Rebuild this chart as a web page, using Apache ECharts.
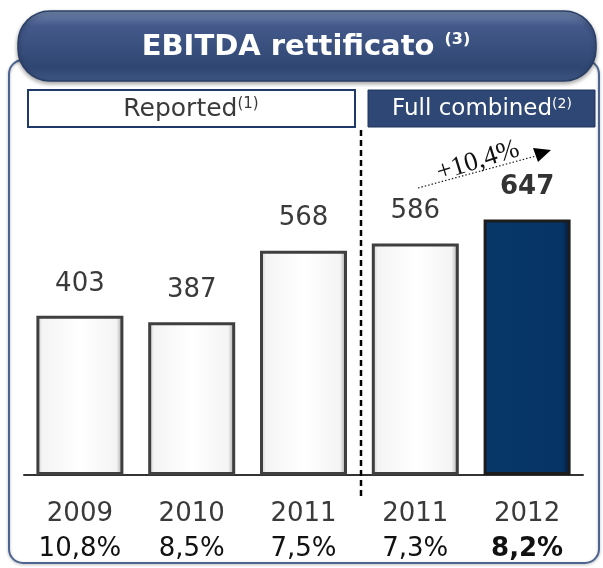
<!DOCTYPE html>
<html>
<head>
<meta charset="utf-8">
<script src="https://cdn.jsdelivr.net/npm/echarts@6/dist/echarts.min.js"></script>
<style>
  html,body{margin:0;padding:0;background:#fff;}
  #chart{width:603px;height:568px;}
</style>
</head>
<body>
<div id="chart"></div>
<script>
// values
const years = ['2009', '2010', '2011', '2011', '2012']
const ebitda = [403, 387, 568, 586, 647]
const margins = ['10,8%', '8,5%', '7,5%', '7,3%', '8,2%']
const growthLabel = '+10,4%'

const FONT = '"DejaVu Sans", Verdana, sans-serif'

let myChart = echarts.init(document.getElementById('chart'))

// white bevelled bars, last one dark blue
const whiteFill = new echarts.graphic.LinearGradient(0, 0, 1, 0, [
  {offset: 0, color: '#c9c9c9'},
  {offset: 0.07, color: '#f4f4f4'},
  {offset: 0.5, color: '#ffffff'},
  {offset: 0.92, color: '#f4f4f4'},
  {offset: 1, color: '#9a9a9a'}
])
const blueFill = new echarts.graphic.LinearGradient(0, 0, 1, 0, [
  {offset: 0, color: '#0a3a70'},
  {offset: 0.07, color: '#073668'},
  {offset: 0.9, color: '#063466'},
  {offset: 1, color: '#021a36'}
])

let barData = ebitda.map((v, i) => {
  let last = i === ebitda.length - 1
  return {
    value: v,
    itemStyle: {
      color: last ? blueFill : whiteFill,
      borderColor: last ? '#1c1c1c' : '#3f3f3f',
      borderWidth: 3
    },
    label: {fontWeight: last ? 'bold' : 'normal', color: last ? '#333' : '#3a3a3a'}
  }
})

myChart.setOption({
  animation: false,
  grid: {left: 24, right: 20, top: 159, bottom: 93},
  xAxis: {
    type: 'category',
    data: years,
    axisTick: {show: false},
    axisLine: {lineStyle: {color: '#333', width: 2}},
    axisLabel: {
      margin: 22,
      interval: 0,
      formatter: function (val, idx) {
        let last = idx === years.length - 1
        return '{y|' + val + '}\n' + (last ? '{pb|' : '{p|') + margins[idx] + '}'
      },
      rich: {
        y: {fontFamily: FONT, fontSize: 26, color: '#3a3a3a', lineHeight: 35},
        p: {fontFamily: FONT, fontSize: 26, color: '#111', lineHeight: 35},
        pb: {fontFamily: FONT, fontSize: 26, color: '#111', lineHeight: 35, fontWeight: 'bold'}
      }
    }
  },
  yAxis: {
    type: 'value',
    min: 0,
    max: 800,
    show: false,
    splitLine: {show: false}
  },
  series: [{
    type: 'bar',
    data: barData,
    barWidth: 87,
    label: {
      show: true,
      position: 'top',
      distance: 19,
      fontFamily: FONT,
      fontSize: 26
    }
  }],
  graphic: [
    // outer frame
    {
      type: 'rect', z: 0,
      shape: {x: 9, y: 60, width: 590, height: 503, r: 14},
      style: {fill: 'none', stroke: '#4d6490', lineWidth: 2,
        shadowBlur: 3, shadowColor: 'rgba(0,0,0,0.3)', shadowOffsetY: 1}
    },
    // title banner
    {
      type: 'rect', z: 10,
      shape: {x: 18, y: 11, width: 578, height: 70, r: 32},
      style: {
        fill: new echarts.graphic.LinearGradient(0, 0, 0, 1, [
          {offset: 0, color: '#7287ad'},
          {offset: 0.22, color: '#44598a'},
          {offset: 0.8, color: '#2f4672'},
          {offset: 1, color: '#3e5684'}
        ]),
        stroke: '#2a3f66', lineWidth: 1.5,
        shadowBlur: 4, shadowColor: 'rgba(0,0,0,0.35)', shadowOffsetY: 2
      }
    },
    {
      type: 'text', z: 11,
      x: 306, y: 47,
      style: {
        text: '{t|EBITDA rettificato }{s|(3)}',
        align: 'center', verticalAlign: 'middle',
        rich: {
          t: {fontFamily: FONT, fontSize: 29, fontWeight: 'bold', fill: '#fff'},
          s: {fontFamily: FONT, fontSize: 16, fontWeight: 'bold', fill: '#fff', padding: [0, 0, 14, 0]}
        }
      }
    },
    // section boxes
    {
      type: 'rect', z: 10,
      shape: {x: 28, y: 90, width: 327, height: 37},
      style: {fill: '#fff', stroke: '#1f3a66', lineWidth: 2}
    },
    {
      type: 'text', z: 11,
      x: 191, y: 109,
      style: {
        text: '{t|Reported}{s|(1)}',
        align: 'center', verticalAlign: 'middle',
        rich: {
          t: {fontFamily: FONT, fontSize: 25, fill: '#3a3a3a'},
          s: {fontFamily: FONT, fontSize: 15, fill: '#3a3a3a', padding: [0, 0, 10, 0]}
        }
      }
    },
    {
      type: 'rect', z: 10,
      shape: {x: 368, y: 90, width: 227, height: 37},
      style: {fill: '#2e4775', stroke: '#1f3560', lineWidth: 1}
    },
    {
      type: 'text', z: 11,
      x: 482, y: 109,
      style: {
        text: '{t|Full combined}{s|(2)}',
        align: 'center', verticalAlign: 'middle',
        rich: {
          t: {fontFamily: FONT, fontSize: 23, fill: '#fff'},
          s: {fontFamily: FONT, fontSize: 14, fill: '#fff', padding: [0, 0, 10, 0]}
        }
      }
    },
    // reported / full combined separator
    {
      type: 'line', z: 5,
      shape: {x1: 361, y1: 130, x2: 361, y2: 500},
      style: {stroke: '#000', lineWidth: 2.5, lineDash: [6, 4]}
    },
    // growth arrow
    {
      type: 'line', z: 5,
      shape: {x1: 418, y1: 188, x2: 536, y2: 156},
      style: {stroke: '#222', lineWidth: 1.2, lineDash: [1.5, 2]}
    },
    {
      type: 'polygon', z: 5,
      shape: {points: [[551, 150], [533, 148], [538, 162]]},
      style: {fill: '#000'}
    },
    {
      type: 'text', z: 6,
      x: 482, y: 174, rotation: 0.3,
      style: {
        text: growthLabel,
        align: 'center', verticalAlign: 'bottom',
        fontFamily: '"Liberation Serif", serif', fontSize: 27, fill: '#111'
      }
    }
  ]
})
</script>
</body>
</html>
